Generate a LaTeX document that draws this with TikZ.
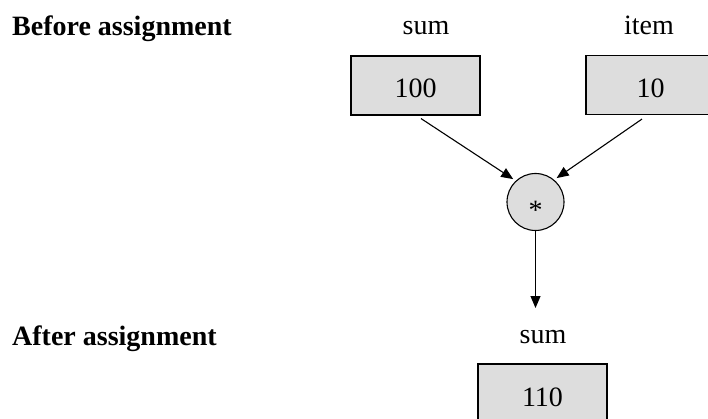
\documentclass[tikz,border=0pt]{standalone}
\usepackage{fontspec}
\setmainfont{Liberation Serif}
\usetikzlibrary{arrows.meta}
\definecolor{boxgray}{HTML}{DDDDDD}
\tikzset{
  varbox/.style={draw=black, fill=boxgray, line width=1.1pt, minimum width=129pt, minimum height=59pt, inner sep=0pt, text height=25pt, text depth=0pt},
  opcircle/.style={draw=black, fill=boxgray, circle, line width=1.1pt, minimum size=57pt, inner sep=0pt, text height=35pt, text depth=0pt},
  lbl/.style={anchor=base, inner sep=0pt},
  head/.style={anchor=base west, inner sep=0pt, font=\bfseries},
  arr/.style={-{Triangle[length=12pt,width=10pt]}, line width=1.1pt}
}
\begin{document}
\begin{tikzpicture}[x=1pt,y=-1pt]
\fontsize{28}{32}\selectfont
\useasboundingbox (0,0) rectangle (708,419);
\clip (0,0) rectangle (708,419);
\node[head] (before) at (12,36) {Before assignment};
\node[head] (after) at (12,345) {After assignment};
\node[lbl] (sumA) at (426,35) {sum};
\node[lbl] (item) at (649,35) {item};
\node[lbl] (sumB) at (543,343) {sum};
\node[varbox] (b100) at (415.5,85.5) {100};
\node[varbox] (b10) at (650.5,85) {10};
\node[varbox] (b110) at (542.5,393.5) {110};
\node[opcircle] (star) at (535.5,202) {*};
\coordinate (tip) at (535.5,308);
\draw[arr, shorten >=3pt] ([shift={(5.5,3)}]b100.south) -- (star.133);
\draw[arr, shorten >=3pt] ([shift={(-8.5,4)}]b10.south) -- (star.50);
\draw[arr] (star.south) -- (tip);
\end{tikzpicture}
\end{document}
